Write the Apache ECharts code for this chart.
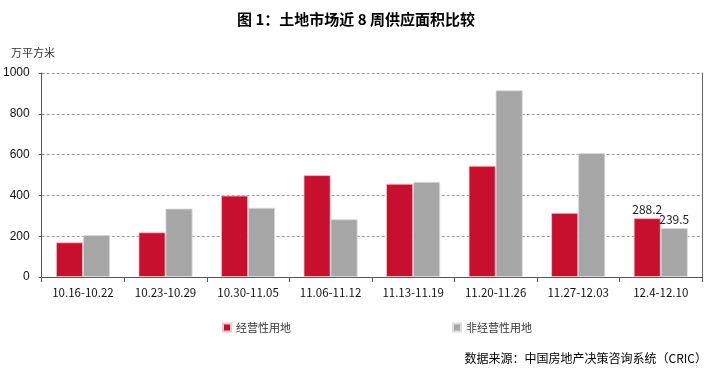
<!DOCTYPE html>
<html><head><meta charset="utf-8">
<script src="https://cdn.jsdelivr.net/npm/echarts@6/dist/echarts.min.js"></script>
<style>html,body{margin:0;padding:0;background:#fff}#c{width:712px;height:369px}</style>
</head><body><div id="c"></div>
<script>
const categories = ['10.16-10.22','10.23-10.29','10.30-11.05','11.06-11.12','11.13-11.19','11.20-11.26','11.27-12.03','12.4-12.10'];
const commercial = [170, 219, 399, 499, 457, 545, 314, 288.2];
const nonCommercial = [206, 335, 339, 283, 466, 915, 607, 239.5];
const seriesNames = ['经营性用地', '非经营性用地'];
const yTicks = [0, 200, 400, 600, 800, 1000];

const font = '"Noto Sans CJK SC", "Noto Sans", sans-serif';
const chart = echarts.init(document.getElementById('c'));
const lastOnly = (n) => ({
  show: true, position: 'top', color: '#222', fontSize: 12, fontFamily: font, distance: 3,
  formatter: p => p.dataIndex === n - 1 ? String(p.value) : ''
});
chart.setOption({
  animation: false,
  textStyle: { fontFamily: font },
  title: [{
    text: '图 1：土地市场近 8 周供应面积比较', left: 'center', top: 7,
    textStyle: { fontSize: 15, fontWeight: 'bold', color: '#000', fontFamily: font }
  }, {
    text: '万平方米', left: 6, top: 42,
    textStyle: { fontSize: 11, fontWeight: 'normal', color: '#333', fontFamily: font }
  }, {
    text: '数据来源：中国房地产决策咨询系统（CRIC）', right: 5, top: 352, padding: 0,
    textStyle: { fontSize: 12, fontWeight: 'normal', color: '#000', fontFamily: font }
  }],
  legend: {
    data: seriesNames, left: 217, top: 317, itemWidth: 8, itemHeight: 8, itemGap: 161,
    icon: 'rect', textStyle: { fontSize: 11, color: '#333', fontFamily: font }
  },
  grid: { left: 41, right: 10, top: 73, bottom: 92 },
  xAxis: {
    type: 'category', data: categories,
    axisLine: { lineStyle: { color: '#555' } },
    axisTick: { show: true, lineStyle: { color: '#555' } },
    axisLabel: { color: '#111', fontSize: 11.5, margin: 10, fontFamily: font }
  },
  yAxis: [{
    type: 'value', min: 0, max: 1000, interval: 200,
    axisLine: { show: true, lineStyle: { color: '#555' } },
    axisTick: { show: true, length: 3, lineStyle: { color: '#555' } },
    axisLabel: { color: '#111', fontSize: 12, margin: 12, fontFamily: 'Liberation Sans, Arial, sans-serif',
      formatter: v => yTicks.includes(v) ? String(v) : '' },
    splitLine: { lineStyle: { color: '#999', type: [3, 2] } }
  }, {
    type: 'value', min: 0, max: 1000, interval: 200, position: 'right',
    axisLine: { show: true, lineStyle: { color: '#666' } },
    axisTick: { show: false }, axisLabel: { show: false }, splitLine: { show: false }
  }],
  series: [{
    name: seriesNames[0], type: 'bar', data: commercial, barWidth: 27, barGap: '0%',
    itemStyle: { color: '#C8102E', borderColor: '#f3c5cc', borderWidth: 0.8 },
    label: lastOnly(categories.length)
  }, {
    name: seriesNames[1], type: 'bar', data: nonCommercial, barWidth: 27,
    itemStyle: { color: '#A6A6A6', borderColor: '#dcdcdc', borderWidth: 0.8 },
    label: lastOnly(categories.length)
  }]
});
</script></body></html>
